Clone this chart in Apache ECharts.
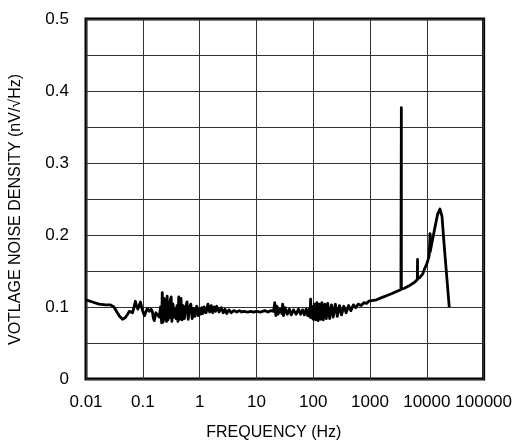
<!DOCTYPE html>
<html>
<head>
<meta charset="utf-8">
<script src="https://cdn.jsdelivr.net/npm/echarts@6/dist/echarts.min.js"></script>
<style>html,body{margin:0;padding:0;background:#fff;}#c{width:515px;height:446px;}</style>
</head>
<body>
<div id="c"></div>
<script>
const xTickLabels = ['0.01','0.1','1','10','100','1000','10000','100000'];
const yTickLabels = ['0','0.1','0.2','0.3','0.4','0.5'];
const xAxisTitle = 'FREQUENCY (Hz)';
const yAxisTitle = 'VOTLAGE NOISE DENSITY (nV/\u221AHz)';

const freqHz = [
0.01,0.013,0.017,0.022,0.027,0.031,0.035,0.039,0.044,0.049,0.054,0.058,0.062,0.066,0.07,0.074,0.078,0.082,0.087,0.091,0.096,0.1,0.107,0.113,0.12,0.13,0.14,0.147,0.153,0.159,0.17,0.18,0.195,0.205,0.215,
0.22,0.228,0.236,0.245,0.255,0.262,0.268,0.276,0.285,0.295,0.305,0.316,0.325,0.34,0.355,0.37,0.385,0.4,0.415,0.429,0.445,0.47,0.49,0.51,0.54,0.57,0.6,0.63,0.66,0.7,0.74,0.78,0.83,0.89,0.95,1.0,
1.05,1.1,1.15,1.2,1.3,1.4,1.5,1.6,1.7,1.8,1.9,2.0,2.2,2.4,2.6,2.8,3.0,3.3,3.6,4,4.5,5,5.5,6,7,8,9,10,12,14,16,18,
20,21,22,23,24,26,28,29,30,32,35,38,41,45,50,55,60,65,70,75,80,85,88,90,92,96,
100,105,110,116,122,128,135,142,150,160,170,180,195,210,225,245,265,290,315,345,380,420,460,510,560,620,700,780,870,950,
1000,1300,1600,2000,2500,3000,3500,3560,3560,3560,4000,5000,6000,6800,6860,6860,6860,7500,8500,9000,10000,11000,11400,11400,11400,12500,14000,15500,17000,18500,20000,22000,24800
];
const noiseDensity = [
0.110,0.107,0.104,0.103,0.103,0.100,0.093,0.087,0.083,0.085,0.090,0.094,0.093,0.092,0.100,0.108,0.101,0.097,0.103,0.107,0.099,0.094,0.088,0.093,0.098,0.094,0.097,0.094,0.085,0.081,0.092,0.090,0.086,0.100,0.078,
0.120,0.079,0.112,0.083,0.110,0.080,0.115,0.082,0.106,0.085,0.110,0.114,0.080,0.104,0.086,0.098,0.084,0.102,0.080,0.114,0.083,0.112,0.082,0.102,0.084,0.100,0.107,0.083,0.099,0.104,0.084,0.098,0.087,0.101,0.088,0.097,
0.090,0.099,0.091,0.100,0.092,0.104,0.093,0.102,0.092,0.100,0.094,0.101,0.093,0.099,0.092,0.097,0.091,0.096,0.092,0.095,0.093,0.095,0.093,0.094,0.093,0.094,0.093,0.094,0.093,0.095,0.093,0.095,
0.094,0.106,0.088,0.101,0.090,0.097,0.091,0.104,0.088,0.099,0.090,0.097,0.089,0.096,0.090,0.097,0.090,0.096,0.089,0.097,0.088,0.097,0.086,0.111,0.085,0.101,
0.083,0.104,0.082,0.106,0.081,0.104,0.083,0.106,0.082,0.104,0.084,0.105,0.084,0.103,0.086,0.104,0.087,0.102,0.089,0.101,0.092,0.102,0.095,0.103,0.099,0.104,0.102,0.106,0.105,0.108,
0.107,0.110,0.113,0.116,0.119,0.122,0.124,0.125,0.377,0.125,0.126,0.130,0.134,0.138,0.138,0.166,0.139,0.141,0.146,0.152,0.160,0.171,0.172,0.202,0.176,0.192,0.212,0.229,0.236,0.226,0.190,0.150,0.100
];

const FONT = '"Liberation Sans", Arial, sans-serif';
const chart = echarts.init(document.getElementById('c'), null, {renderer: 'canvas'});
chart.setOption({
  animation: false,
  backgroundColor: '#fff',
  grid: {left: 83, right: 30, top: 19, bottom: 66, show: true, borderColor: '#000', borderWidth: 3, containLabel: false},
  xAxis: {
    type: 'log', logBase: 10, min: 0.01, max: 100000,
    name: xAxisTitle, nameLocation: 'middle', nameGap: 46,
    nameTextStyle: {fontFamily: FONT, fontSize: 16, color: '#000', padding: [0, 22, 0, 0]},
    axisLine: {show: false}, axisTick: {show: false},
    axisLabel: {fontFamily: FONT, fontSize: 17, color: '#000', margin: 15,
      formatter: v => xTickLabels[Math.round(Math.log10(v)) + 2]},
    splitLine: {show: true, lineStyle: {color: '#333', width: 1}},
    minorTick: {show: false}
  },
  yAxis: {
    type: 'value', min: 0, max: 0.5, interval: 0.05,
    name: yAxisTitle, nameLocation: 'middle', nameGap: 62,
    nameTextStyle: {fontFamily: FONT, fontSize: 16, color: '#000', padding: [0, 21, 0, 0]},
    axisLine: {show: false}, axisTick: {show: false},
    axisLabel: {fontFamily: FONT, fontSize: 17, color: '#000', margin: 17,
      formatter: v => { const k = Math.round(v * 20); return k % 2 === 0 ? yTickLabels[k / 2] : ''; }},
    splitLine: {show: true, lineStyle: {color: '#333', width: 1}}
  },
  series: [{
    type: 'line',
    data: freqHz.map((f, i) => [f, noiseDensity[i]]),
    showSymbol: false, symbol: 'none',
    lineStyle: {color: '#000', width: 2.8, join: 'round'},
    z: 5
  }]
});
</script>
</body>
</html>
